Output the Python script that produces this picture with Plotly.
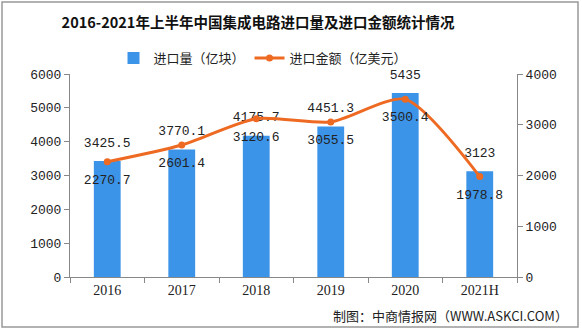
import plotly.graph_objects as go

categories = ["2016", "2017", "2018", "2019", "2020", "2021H"]
volume = [3425.5, 3770.1, 4175.7, 4451.3, 5435, 3123]          # 进口量（亿块）
value = [2270.7, 2601.4, 3120.6, 3055.5, 3500.4, 1978.8]       # 进口金额（亿美元）
volume_labels = ["3425.5", "3770.1", "4175.7", "4451.3", "5435", "3123"]
value_labels = ["2270.7", "2601.4", "3120.6", "3055.5", "3500.4", "1978.8"]

W, H = 582, 331
L, R, T, B = 70, 65, 74, 54
pw, ph = W - L - R, H - T - B

num_font = dict(family="Liberation Mono, SimSun, monospace", size=13, color="#222")
cjk = "Noto Sans CJK SC"

fig = go.Figure()
fig.add_trace(go.Bar(
    x=categories, y=volume, name="进口量（亿块）",
    marker=dict(color="#3c94e8", line=dict(width=0)),
    yaxis="y",
))
fig.add_trace(go.Scatter(
    x=categories, y=volume, mode="markers+text", text=volume_labels,
    marker=dict(size=16, opacity=0),
    textposition="top center", textfont=num_font, showlegend=False,
    cliponaxis=False, yaxis="y", hoverinfo="skip",
))
fig.add_trace(go.Scatter(
    x=categories, y=value, name="进口金额（亿美元）", yaxis="y2",
    mode="lines+markers",
    line=dict(color="#ee6a22", width=3, shape="spline", smoothing=0.7),
    marker=dict(color="#ee6a22", size=7),
    cliponaxis=False,
))
fig.add_trace(go.Scatter(
    x=categories, y=value, mode="markers+text", text=value_labels,
    marker=dict(size=18, opacity=0),
    textposition="bottom center", textfont=num_font, showlegend=False,
    cliponaxis=False, yaxis="y2", hoverinfo="skip",
))

def fx(px):
    return (px - L) / pw

def fy(py):
    return (H - B - py) / ph

fig.update_layout(
    width=W, height=H,
    margin=dict(l=L, r=R, t=T, b=B),
    paper_bgcolor="white", plot_bgcolor="white",
    bargap=0.64,
    title=dict(text="<b>2016-2021年上半年中国集成电路进口量及进口金额统计情况</b>",
               xref="container", x=258 / W, xanchor="center",
               yref="container", y=1 - 23 / H, yanchor="middle",
               font=dict(family=cjk, size=14.5, color="#111")),
    legend=dict(orientation="h", x=fx(263), xanchor="center", y=fy(58), yanchor="middle",
                font=dict(family=cjk, size=13, color="#222"),
                itemwidth=30, tracegroupgap=0, bgcolor="rgba(0,0,0,0)"),
    xaxis=dict(type="category", showline=True, linecolor="#888", linewidth=1,
               ticks="outside", tickson="boundaries", ticklen=5, tickcolor="#888",
               tickfont=dict(family="Liberation Serif, serif", size=14, color="#222"),
               showgrid=False, zeroline=False),
    yaxis=dict(range=[0, 6000], dtick=1000, showline=True, linecolor="#888",
               ticks="outside", ticklen=5, tickcolor="#888", tickfont=num_font,
               showgrid=False, zeroline=False),
    yaxis2=dict(range=[0, 4000], dtick=1000, overlaying="y", side="right",
                showline=True, linecolor="#888", ticks="outside", ticklen=5,
                tickcolor="#888", tickfont=num_font, showgrid=False, zeroline=False),
    shapes=[dict(type="rect", xref="paper", yref="paper",
                 x0=fx(2), x1=fx(578), y0=fy(327), y1=fy(2),
                 line=dict(color="#999", width=1.5), fillcolor="rgba(0,0,0,0)")],
    annotations=[dict(text="制图：中商情报网（WWW.ASKCI.COM）", xref="paper", yref="paper",
                      x=fx(570), xanchor="right", y=fy(315), yanchor="middle",
                      showarrow=False, font=dict(family=cjk, size=13, color="#222"))],
)

fig.write_html("out.html")
